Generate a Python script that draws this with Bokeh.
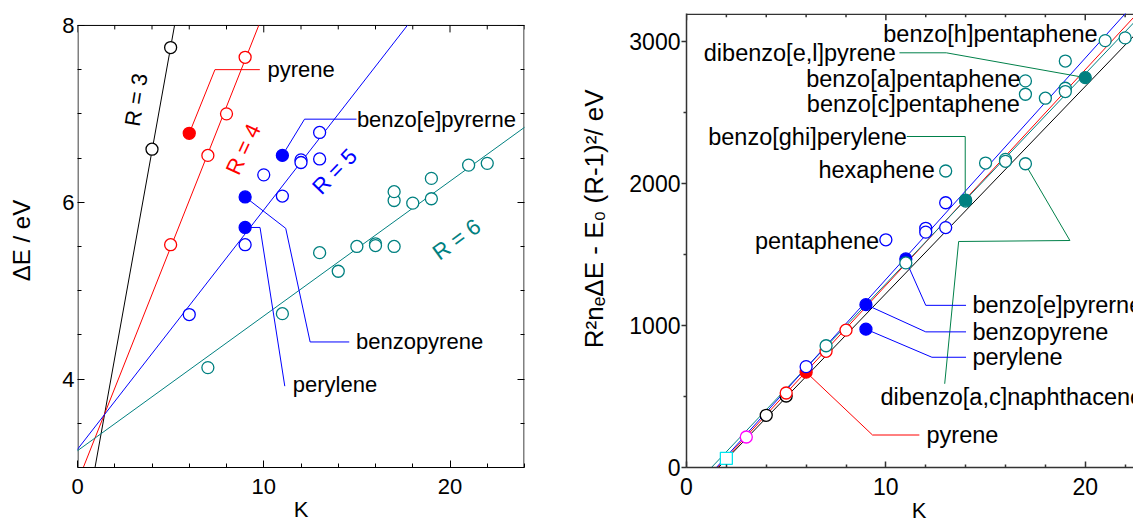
from bokeh.plotting import figure
from bokeh.layouts import row
from bokeh.models import Range1d, LinearAxis, FixedTicker, CustomJSTickFormatter
from bokeh.core.properties import value
from bokeh.embed import file_html
from bokeh.resources import INLINE
import numpy as np

FONT = "Liberation Sans"
BLACK, RED, BLUE, TEAL, GREEN = "black", "#ff0000", "#0000ff", "#008080", "#00804a"
MAGENTA, CYAN = "#ff00ff", "#00e5ee"

# ---------------- left panel data (K, ΔE / eV) ----------------
r3_K = [4, 5]
r3_dE = [6.60, 7.75]
r4_K = [5, 7, 8, 9]
r4_dE = [5.52, 6.53, 7.00, 7.64]
r4f_K = [6]
r4f_dE = [6.78]            # pyrene
r5_K = [6, 9, 10, 11, 12, 12, 13, 13]
r5_dE = [4.73, 5.52, 6.31, 6.07, 6.48, 6.45, 6.79, 6.49]
r5f_K = [9, 9, 11]
r5f_dE = [6.06, 5.715, 6.53]   # benzopyrene, perylene, benzo[e]pyrerne
r6_K = [7, 11, 13, 14, 15, 16, 16, 17, 17, 17, 18, 19, 19, 21, 22]
r6_dE = [4.13, 4.74, 5.43, 5.22, 5.50, 5.53, 5.51, 5.50, 6.02, 6.12, 5.99, 6.04, 6.27, 6.42, 6.44]

# linear fits ΔE = a + b K for R = 3, 4, 5, 6
fit_R = [3, 4, 5, 6]
fit_a = [1.899, 2.835, 3.206, 3.190]
fit_b = [1.171, 0.5308, 0.2707, 0.1524]

# ---------------- right panel data (K, R^2 n_e ΔE - E0 (R-1)^2 / eV) ----------------
r1_K = [2]
r1_Y = [65]
r2_K = [3]
r2_Y = [215]
q3_K = [4, 5]
q3_Y = [368, 504]
q4_K = [5, 7, 8]
q4_Y = [525, 819, 968]
q4f_K = [6]
q4f_Y = [672]
q5_K = [6, 10, 12, 12, 13, 13]
q5_Y = [711, 1605, 1686, 1659, 1866, 1691]
q5f_K = [9, 9, 11]
q5f_Y = [1148, 975, 1470]
q6_K = [7, 11, 13, 14, 15, 16, 16, 17, 17, 17, 18, 19, 19, 19, 21, 22]
q6_Y = [858, 1442, 2090, 1878, 2146, 2172, 2158, 2141, 2725, 2631, 2603, 2865, 2673, 2650, 3009, 3028]
q6f_K = [14, 20]
q6f_Y = [1885, 2748]

# linear fits Y = a + b K (black R=3, red R=4, teal R=6, blue R=5)
qfit_a = [-234, -236, -185, -234]
qfit_b = [146.0, 152.0, 148.0, 156.0]

XT = [0, 10, 20]
XMINOR = [2, 4, 6, 8, 12, 14, 16, 18, 22, 24]
YT1 = [4, 6, 8]
YMINOR1 = [3.5, 4.5, 5, 5.5, 6.5, 7, 7.5]

H = 525
TOP, BOTTOM = 13, 56          # shared frame borders of both panels (px)


def style_axis(ax, tin, tout, mtin, mtout, color="black", width=1, labels=True, size="22px"):
    ax.axis_line_color = color
    ax.axis_line_width = width
    ax.major_tick_line_color = color
    ax.minor_tick_line_color = color
    ax.major_tick_line_width = width
    ax.minor_tick_line_width = width
    ax.major_tick_in = tin
    ax.major_tick_out = tout
    ax.minor_tick_in = mtin
    ax.minor_tick_out = mtout
    ax.major_label_text_font = FONT
    ax.major_label_text_color = "black"
    ax.axis_label_text_color = "black"
    ax.axis_label_text_font = FONT
    ax.axis_label_text_font_style = "normal"
    if labels:
        ax.major_label_text_font_size = size
    else:
        ax.formatter = CustomJSTickFormatter(code="return ''")
        ax.major_label_text_font_size = "1px"
        ax.major_label_standoff = 0


def txt(p, x, y, s, align="left", color="black", size="22px", angle=0):
    p.text(x=[x], y=[y], text=[s], text_align=align, text_baseline="middle",
           text_color=color, text_font=value(FONT), text_font_size=size,
           angle=angle, angle_units="deg")


def open_pts(p, x, y, color, size=12, marker="circle"):
    p.scatter(x, y, marker=marker, size=size, fill_color="white",
              line_color=color, line_width=1.3)


def fill_pts(p, x, y, color, size=12):
    p.scatter(x, y, marker="circle", size=size, fill_color=color,
              line_color=color, line_width=1.3)


# =============== LEFT FIGURE ===============
# the box of this panel starts 12 px below the shared frame top
Y1_LO, Y1_HI = 3, 8
ppu1 = (H - TOP - BOTTOM - 12) / (Y1_HI - Y1_LO)
X1_HI = 24
W1_FRAME = 447
ppx1 = W1_FRAME / X1_HI
p1 = figure(width=576, height=H, x_range=Range1d(0, X1_HI),
            y_range=Range1d(Y1_LO, Y1_HI + 12 / ppu1),
            output_backend="svg", toolbar_location=None,
            min_border_left=77, min_border_right=576 - 77 - W1_FRAME,
            min_border_top=TOP, min_border_bottom=BOTTOM)
p1.grid.visible = False
p1.outline_line_color = None
p1.background_fill_color = "white"

xt1 = FixedTicker(ticks=XT, minor_ticks=XMINOR)
yt1 = FixedTicker(ticks=YT1, minor_ticks=YMINOR1)
p1.xaxis.ticker = xt1
p1.yaxis.ticker = yt1
style_axis(p1.xaxis[0], 7, 0, 4, 0)
style_axis(p1.yaxis[0], 7, 0, 4, 0)
p1.yaxis.axis_line_color = None
p1.xaxis.major_label_standoff = 11
p1.yaxis.major_label_standoff = 3
p1.xaxis.axis_label = "K"
p1.xaxis.axis_label_text_font_size = "22px"
p1.xaxis.axis_label_standoff = 0
p1.yaxis.axis_label = "ΔE / eV"
p1.yaxis.axis_label_text_font_size = "24px"
p1.yaxis.axis_label_standoff = 24

ax_r = LinearAxis(ticker=yt1)
style_axis(ax_r, 7, 0, 4, 0, labels=False)
ax_r.axis_line_color = None
p1.add_layout(ax_r, "right")

# box sides and top ticks
hx = 0.5 / ppx1
p1.line([hx, hx], [Y1_LO, Y1_HI], line_color="black", line_width=1)
p1.line([X1_HI - hx, X1_HI - hx], [Y1_LO, Y1_HI], line_color="black", line_width=1)
p1.line([0, X1_HI], [Y1_HI, Y1_HI], line_color="black", line_width=1)
p1.segment(x0=XT, y0=[Y1_HI] * len(XT), x1=XT, y1=[Y1_HI - 7 / ppu1] * len(XT),
           line_color="black", line_width=1)
p1.segment(x0=XMINOR, y0=[Y1_HI] * len(XMINOR), x1=XMINOR,
           y1=[Y1_HI - 4 / ppu1] * len(XMINOR), line_color="black", line_width=1)

for a, b, c in zip(fit_a, fit_b, [BLACK, RED, BLUE, TEAL]):
    k_end = min(X1_HI + 1, (Y1_HI - a) / b)
    kk1 = np.array([-1.0, k_end])
    p1.line(kk1, a + b * kk1, line_color=c, line_width=1)

# leader lines
p1.line([6, 7.38, 9.79], [6.78, 7.50, 7.50], line_color=RED, line_width=1)
p1.line([11, 12.19, 14.98], [6.53, 6.94, 6.94], line_color=BLUE, line_width=1)
p1.line([9, 11.18, 12.49, 14.59], [6.06, 5.705, 4.42, 4.42], line_color=BLUE, line_width=1)
p1.line([9, 9.8, 11.13], [5.715, 5.715, 3.92], line_color=BLUE, line_width=1)

open_pts(p1, r3_K, r3_dE, BLACK)
open_pts(p1, r4_K, r4_dE, RED)
fill_pts(p1, r4f_K, r4f_dE, RED)
open_pts(p1, r5_K, r5_dE, BLUE)
fill_pts(p1, r5f_K, r5f_dE, BLUE)
open_pts(p1, r6_K, r6_dE, TEAL)

txt(p1, 10.2, 7.50, "pyrene")
txt(p1, 15.0, 6.94, "benzo[e]pyrerne")
txt(p1, 14.95, 4.42, "benzopyrene")
txt(p1, 11.56, 3.94, "perylene")
txt(p1, 3.15, 7.16, "R = %d" % fit_R[0], align="center", color=BLACK, angle=81)
txt(p1, 8.9, 6.60, "R = %d" % fit_R[1], align="center", color=RED, angle=65)
txt(p1, 13.8, 6.35, "R = %d" % fit_R[2], align="center", color=BLUE, angle=46)
txt(p1, 20.35, 5.58, "R = %d" % fit_R[3], align="center", color=TEAL, angle=36)

# =============== RIGHT FIGURE ===============
Y2_TOP = 3200
p2 = figure(width=557, height=H, x_range=Range1d(0, 22.42), y_range=Range1d(0, Y2_TOP),
            output_backend="svg", toolbar_location=None,
            min_border_left=110, min_border_right=0, min_border_top=TOP, min_border_bottom=BOTTOM)
p2.grid.visible = False
p2.outline_line_color = None

xt2 = FixedTicker(ticks=XT, minor_ticks=XMINOR)
yt2 = FixedTicker(ticks=[0, 1000, 2000, 3000], minor_ticks=[500, 1500, 2500])
p2.xaxis.ticker = xt2
p2.yaxis.ticker = yt2
AX2 = "#333333"
style_axis(p2.xaxis[0], 6, 0, 3, 0, color=AX2, width=1.5, size="23px")
style_axis(p2.yaxis[0], 0, 5, 0, 3, color=AX2, width=1.5, size="23px")
p2.xaxis.major_label_standoff = 10
p2.yaxis.major_label_standoff = 1
p2.xaxis.axis_label = "\u00a0\u00a0\u00a0K"
p2.xaxis.axis_label_text_font_size = "22px"
p2.xaxis.axis_label_standoff = 0
p2.yaxis.axis_label = "\u00a0" * 6 + "R²nₑΔE - E₀ (R-1)²/ eV"
p2.yaxis.axis_label_text_font_size = "26px"
p2.yaxis.axis_label_standoff = 17

# top frame edge with inward ticks (drawn inside the frame)
ppu2 = (H - TOP - BOTTOM) / Y2_TOP
top_line = Y2_TOP - 0.75 / ppu2
p2.line([0, 30], [top_line, top_line], line_color=AX2, line_width=1.5)
p2.segment(x0=XT, y0=[top_line] * len(XT), x1=XT, y1=[top_line - 6 / ppu2] * len(XT),
           line_color=AX2, line_width=1.5)
p2.segment(x0=XMINOR, y0=[top_line] * len(XMINOR), x1=XMINOR,
           y1=[top_line - 3 / ppu2] * len(XMINOR), line_color=AX2, line_width=1.5)

kk = np.array([-1.0, 25.0])
for a, b, c in zip(qfit_a, qfit_b, [BLACK, RED, TEAL, BLUE]):
    p2.line(kk, a + b * kk, line_color=c, line_width=1)

# leader lines
p2.line([10.68, 13.03, 20], [2923, 2923, 2748], line_color=GREEN, line_width=1)
p2.line([11.05, 13.98, 13.98], [2333, 2333, 1885], line_color=GREEN, line_width=1)
p2.line([12.95, 13.65, 19.23, 16.98], [590, 1593, 1600, 2141], line_color=GREEN, line_width=1)
p2.line([10.97, 12.0, 14.02], [1470, 1143, 1143], line_color=BLUE, line_width=1)
p2.line([9, 12.0, 14.02], [1148, 956, 956], line_color=BLUE, line_width=1)
p2.line([9, 12.31, 14.02], [975, 777, 777], line_color=BLUE, line_width=1)
p2.line([6, 9.33, 11.68], [672, 229, 229], line_color=RED, line_width=1)

open_pts(p2, r1_K, r1_Y, CYAN, marker="square")
open_pts(p2, r2_K, r2_Y, MAGENTA)
open_pts(p2, q3_K, q3_Y, BLACK)
open_pts(p2, q4_K, q4_Y, RED)
fill_pts(p2, q4f_K, q4f_Y, RED)
open_pts(p2, q5_K, q5_Y, BLUE)
fill_pts(p2, q5f_K, q5f_Y, BLUE)
open_pts(p2, q6_K, q6_Y, TEAL)
fill_pts(p2, q6f_K, q6f_Y, TEAL)

S2 = "23.5px"
txt(p2, 20.62, 3058, "benzo[h]pentaphene", align="right", size=S2)
txt(p2, 10.5, 2923, "dibenzo[e,l]pyrene", align="right", size=S2)
txt(p2, 16.75, 2738, "benzo[a]pentaphene", align="right", size=S2)
txt(p2, 16.72, 2561, "benzo[c]pentaphene", align="right", size=S2)
txt(p2, 11.05, 2333, "benzo[ghi]perylene", align="right", size=S2)
txt(p2, 12.45, 2099, "hexaphene", align="right", size=S2)
txt(p2, 9.66, 1600, "pentaphene", align="right", size=S2)
txt(p2, 14.34, 1143, "benzo[e]pyrerne", size=S2)
txt(p2, 14.34, 956, "benzopyrene", size=S2)
txt(p2, 14.34, 777, "perylene", size=S2)
txt(p2, 9.73, 497, "dibenzo[a,c]naphthacene", size=S2)
txt(p2, 12.04, 229, "pyrene", size=S2)

layout = row(p1, p2)
open("out.html", "w").write(file_html(layout, INLINE))
